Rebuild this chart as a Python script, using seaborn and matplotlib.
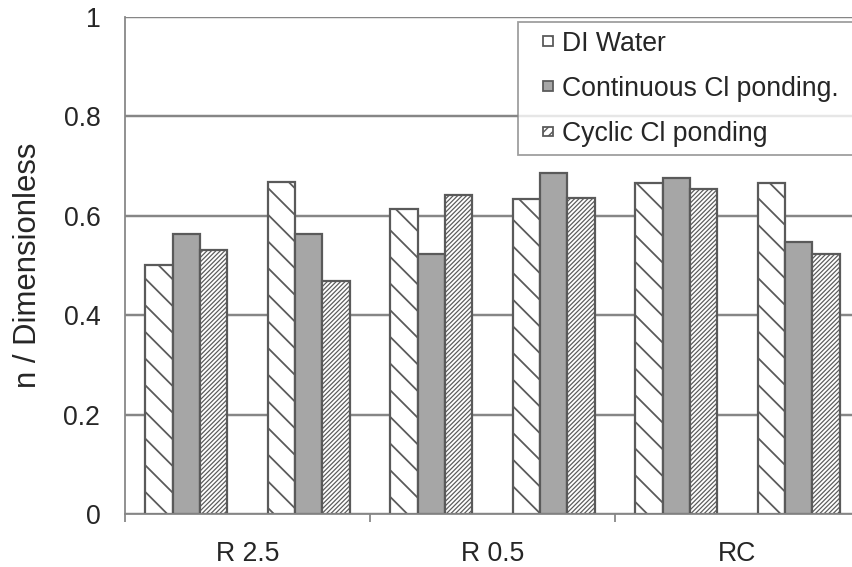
import matplotlib
matplotlib.use("Agg")
import matplotlib.pyplot as plt
import matplotlib.patches as mpatches
from matplotlib.legend_handler import HandlerPatch
import seaborn as sns
import pandas as pd

# ---- data ----
groups = ["g1", "g2", "g3", "g4", "g5", "g6"]
series = ["DI Water", "Continuous Cl ponding.", "Cyclic Cl ponding"]
di_water = [0.501, 0.668, 0.614, 0.633, 0.667, 0.667]
continuous = [0.564, 0.563, 0.524, 0.687, 0.677, 0.548]
cyclic = [0.532, 0.468, 0.641, 0.635, 0.653, 0.524]
category_labels = ["R 2.5", "R 0.5", "RC"]
yticks = [0, 0.2, 0.4, 0.6, 0.8, 1.0]
ytick_labels = ["0", "0.2", "0.4", "0.6", "0.8", "1"]

rows = []
for s, vals in zip(series, [di_water, continuous, cyclic]):
    for g, v in zip(groups, vals):
        rows.append({"group": g, "series": s, "value": v})
df = pd.DataFrame(rows)

sns.set_style("white")
plt.rcParams["font.family"] = ["Liberation Sans", "DejaVu Sans"]
plt.rcParams["hatch.linewidth"] = 0.65
plt.rcParams["hatch.color"] = "#333333"

DPI = 160
fig = plt.figure(figsize=(852 / DPI, 567 / DPI), dpi=DPI)
ax = fig.add_axes([125 / 852, 53 / 567, 735 / 852, 497 / 567])

edge = "#5a5a5a"
fills = ["white", "#a6a6a6", "white"]
hatches = ["\\\\", "", "////////////"]
hatch_lw = [0.8, 0.5, 0.55]

sns.barplot(data=df, x="group", y="value", hue="series", order=groups,
            hue_order=series, palette=fills, width=0.67, ax=ax,
            edgecolor=edge, linewidth=1.0, legend=False, saturation=1)

for cont, h, hl in zip(ax.containers, hatches, hatch_lw):
    for p in cont:
        p.set_hatch(h)
        p.set_edgecolor(edge)
        if hasattr(p, "set_hatch_linewidth"):
            p.set_hatch_linewidth(hl)

ax.set_xlim(-0.5, 5.5)
ax.set_ylim(0, 1)
ax.set_yticks(yticks)
ax.set_yticklabels(ytick_labels)
ax.yaxis.grid(True, color="#868686", linewidth=1.1)
ax.set_axisbelow(True)

# category labels between pairs of groups
ax.set_xticks([0.5, 2.5, 4.5])
ax.set_xticklabels(category_labels)
ax.tick_params(axis="x", which="major", length=0, pad=12, labelsize=12)
ax.set_xticks([-0.5, 0.5, 1.5, 2.5, 3.5, 4.5, 5.5], minor=True)
ax.tick_params(axis="x", which="minor", length=3.6, width=0.8, color="#868686", direction="out", bottom=True)
ax.tick_params(axis="y", length=3.6, width=0.8, color="#868686", direction="out", pad=7.5, labelsize=12)

for side in ["top", "right"]:
    ax.spines[side].set_visible(False)
for side in ["left", "bottom"]:
    ax.spines[side].set_color("#868686")
    ax.spines[side].set_linewidth(0.8)

ax.set_xlabel("")
ax.set_ylabel("n / Dimensionless", fontsize=14, labelpad=9.3)


def small_square(legend, orig_handle, xdescent, ydescent, width, height, fontsize):
    s = 4.4
    return mpatches.Rectangle((-xdescent + width - s, -ydescent + (height - s) / 2), s, s)


leg_handles = [mpatches.Patch(facecolor=f, edgecolor=edge, hatch=h, linewidth=0.8)
               for f, h in zip(fills, ["\\\\\\", "", "//////"])]
leg = fig.legend(leg_handles, series, loc="upper left", mode="expand",
                 bbox_to_anchor=(518 / 852, 1 - 22 / 567, (885 - 518) / 852, 0),
                 bbox_transform=fig.transFigure,
                 fontsize=12, frameon=True, fancybox=False, borderaxespad=0,
                 handlelength=0.975, handleheight=0.4, handletextpad=0.35,
                 labelspacing=0.72, borderpad=0.32,
                 handler_map={mpatches.Patch: HandlerPatch(patch_func=small_square)})
leg.get_frame().set_edgecolor("#868686")
leg.get_frame().set_linewidth(0.8)

fig.savefig("out.png", dpi=DPI)
